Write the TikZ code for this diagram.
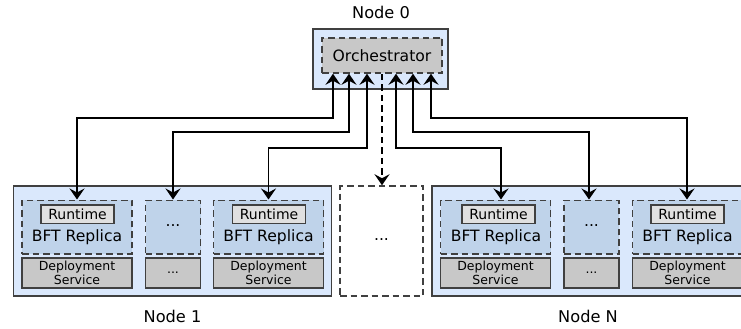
\documentclass[tikz,border=0pt]{standalone}
\usepackage{fontspec}
\setmainfont{DejaVu Sans}
\usetikzlibrary{arrows.meta}
\definecolor{nodefill}{HTML}{DAE8FC}
\definecolor{repfill}{HTML}{BFD3EA}
\definecolor{edgegrey}{HTML}{404040}
\definecolor{rtfill}{HTML}{E0E0E0}
\definecolor{depfill}{HTML}{C8C8C8}
\tikzset{
  hostbox/.style={draw=edgegrey, line width=1.6pt, fill=nodefill, inner sep=0pt},
  repbox/.style={draw=edgegrey, line width=1.5pt, dash pattern=on 6.5pt off 4pt, fill=repfill, inner sep=0pt, font=\fontsize{15.6}{18}\selectfont},
  rtbox/.style={draw=edgegrey, line width=1.5pt, fill=rtfill, inner sep=0pt, minimum width=73pt, minimum height=18.5pt, font=\fontsize{14}{16}\selectfont},
  depbox/.style={draw=edgegrey, line width=1.5pt, fill=depfill, inner sep=0pt, align=center, font=\fontsize{12.5}{14.2}\selectfont},
  label/.style={inner sep=0pt, font=\fontsize{16.2}{19}\selectfont},
  btext/.style={inner sep=0pt, font=\fontsize{15.6}{18}\selectfont},
  biarrow/.style={line width=1.6pt, {Stealth[length=11pt,width=15pt,inset=4pt]}-{Stealth[length=11pt,width=15pt,inset=4pt]}},
  dasharrow/.style={line width=1.6pt, dash pattern=on 6.5pt off 4pt, -{Stealth[length=11pt,width=15pt,inset=4pt]}},
}
\begin{document}
\begin{tikzpicture}[x=1pt,y=-1pt]
\useasboundingbox (0,0) rectangle (741,329);
% Node 0
\node[label] (l0) at (381,12) {Node 0};
\node[hostbox, minimum width=135pt, minimum height=60pt] (o) at (380.5,59) {};
\node[repbox, fill=depfill, minimum width=120pt, minimum height=35pt] (oi) at (382,55.5) {Orchestrator};
% Node 1
\node[hostbox, minimum width=318pt, minimum height=110pt] (h1) at (172.5,241) {};
\node[repbox, minimum width=110pt, minimum height=53.5pt] (r1) at (77,227) {};
\node[rtbox] (rt1) at (77.5,214) {Runtime};
\node[btext] (b1) at (77,237.5) {BFT Replica};
\node[depbox, minimum width=110pt, minimum height=30pt] (d1) at (77,273) {Deployment\\Service};
\node[repbox, minimum width=55pt, minimum height=53.5pt] (r2) at (173,227) {\raisebox{2pt}{...}};
\node[depbox, minimum width=55pt, minimum height=30pt] (d2) at (173,273) {...};
\node[repbox, minimum width=110pt, minimum height=53.5pt] (r3) at (268.5,227) {};
\node[rtbox] (rt3) at (269,214) {Runtime};
\node[btext] (b3) at (268.5,237.5) {BFT Replica};
\node[depbox, minimum width=110pt, minimum height=30pt] (d3) at (268.5,273) {Deployment\\Service};
\node[label] (l1) at (172.5,316) {Node 1};
% middle
\node[repbox, fill=white, minimum width=83pt, minimum height=110pt] (mid) at (381.5,241) {\raisebox{2pt}{...}};
% Node N
\node[hostbox, minimum width=318pt, minimum height=110pt] (hN) at (591,241) {};
\node[repbox, minimum width=110pt, minimum height=53.5pt] (rN1) at (495.5,227) {};
\node[rtbox] (rtN1) at (498.5,214) {Runtime};
\node[btext] (bN1) at (496,237.5) {BFT Replica};
\node[depbox, minimum width=110pt, minimum height=30pt] (dN1) at (495.5,273) {Deployment\\Service};
\node[repbox, minimum width=55pt, minimum height=53.5pt] (rN2) at (591.5,227) {\raisebox{2pt}{...}};
\node[depbox, minimum width=55pt, minimum height=30pt] (dN2) at (591.5,273) {...};
\node[repbox, minimum width=110pt, minimum height=53.5pt] (rN3) at (687.5,227) {};
\node[rtbox] (rtN3) at (687.5,214) {Runtime};
\node[btext] (bN3) at (687.5,237.5) {BFT Replica};
\node[depbox, minimum width=110pt, minimum height=30pt] (dN3) at (687.5,273) {Deployment\\Service};
\node[label] (lN) at (588,316) {Node N};
% orchestrator ports
\coordinate (o1) at ([xshift=-49pt]oi.south);
\coordinate (o2) at ([xshift=-33pt]oi.south);
\coordinate (o3) at ([xshift=-15pt]oi.south);
\coordinate (o4) at (oi.south);
\coordinate (o5) at ([xshift=14pt]oi.south);
\coordinate (o6) at ([xshift=31pt]oi.south);
\coordinate (o7) at ([xshift=49pt]oi.south);
% targets
\coordinate (t1) at (r1.north);
\coordinate (t2) at (r2.north);
\coordinate (t3) at (r3.north);
\coordinate (t5) at ([xshift=5.5pt]rN1.north);
\coordinate (t6) at ([xshift=-2.5pt]rN2.north);
\coordinate (t7) at ([xshift=-0.5pt]rN3.north);
% connectors
\draw[biarrow] (o1) |- (t1 |- 0,118) -- (t1);
\draw[biarrow] (o2) |- (t2 |- 0,132) -- (t2);
\draw[biarrow] (o3) |- (t3 |- 0,148) -- (t3);
\draw[dasharrow] (o4) -- (o4 |- mid.north);
\draw[biarrow] (o5) |- (t5 |- 0,148) -- (t5);
\draw[biarrow] (o6) |- (t6 |- 0,132) -- (t6);
\draw[biarrow] (o7) |- (t7 |- 0,118) -- (t7);
\end{tikzpicture}
\end{document}
